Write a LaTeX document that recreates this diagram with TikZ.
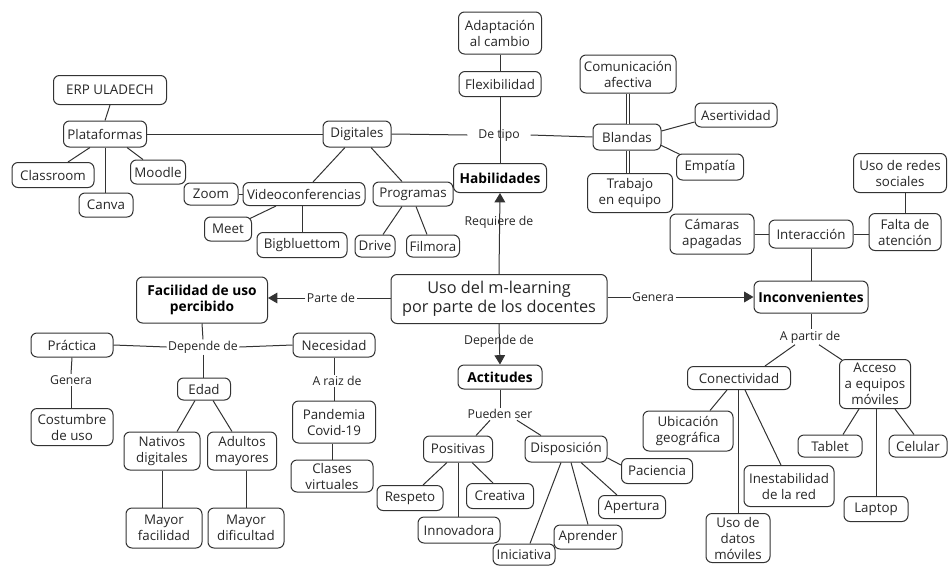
\documentclass[tikz,border=0pt]{standalone}
\usepackage{fontspec}
\setmainfont{Open Sans}
\usetikzlibrary{arrows.meta,calc}
\definecolor{lc}{HTML}{333333}
\definecolor{tc}{HTML}{262626}
\tikzset{
  box/.style={draw=lc, rounded corners=4.5pt, line width=0.75pt, inner sep=1pt, align=center,
    font=\fontsize{10}{12}\selectfont, text=tc},
  bsz/.style 2 args={minimum width=#1*0.75pt, minimum height=#2*0.75pt},
  boldbox/.style={box, font=\fontsize{10.3}{12.5}\selectfont\bfseries, text=black},
  lbl/.style={inner sep=1pt, font=\fontsize{9.2}{11}\selectfont, text=tc, fill=white},
  lblclear/.style={inner sep=1pt, font=\fontsize{9.2}{11}\selectfont, text=tc},
  conn/.style={draw=lc, line width=0.75pt},
  arr/.style={conn, -{Triangle[width=8pt,length=7pt]}},
  dbl/.style={draw=lc, line width=0.6pt, double=white, double distance=1.6pt}
}
\begin{document}
\begin{tikzpicture}[x=0.75pt,y=-0.75pt]
\useasboundingbox (0,0) rectangle (950,565);
% ---------- nodes ----------
\node[box,bsz={113}{29}] (erp) at (110,90) {ERP ULADECH};
\node[box,bsz={83}{26}] (plat) at (105,134) {Plataformas};
\node[box,bsz={82}{25}] (class) at (53,175) {Classroom};
\node[box,bsz={55}{24}] (moodle) at (158,172) {Moodle};
\node[box,bsz={54}{24}] (canva) at (106,205) {Canva};
\node[box,bsz={54}{22}] (zoom) at (211,194) {Zoom};
\node[box,bsz={122}{23}] (video) at (304,194) {Videoconferencias};
\node[box,bsz={47}{24}] (meet) at (228,229) {Meet};
\node[box,bsz={90}{25}] (bigb) at (302,245) {Bigbluettom};
\node[box,bsz={68}{26}] (digit) at (357,134) {Digitales};
\node[box,bsz={83}{42}] (adapt) at (500,33) {Adaptación\\al cambio};
\node[box,bsz={82}{25}] (flex) at (500,84) {Flexibilidad};
\node[boldbox,bsz={93}{29}] (hab) at (500,178) {Habilidades};
\node[box,bsz={80}{24}] (prog) at (413,194) {Programas};
\node[box,bsz={40}{22}] (drive) at (375,246) {Drive};
\node[box,bsz={53}{22}] (film) at (433,246) {Filmora};
\node[box,bsz={68}{26}] (blandas) at (627,137) {Blandas};
\node[box,bsz={96}{38}] (comu) at (628,74) {Comunicación\\afectiva};
\node[box,bsz={82}{24}] (aser) at (736,115) {Asertividad};
\node[box,bsz={67}{26}] (empa) at (710,167) {Empatía};
\node[box,bsz={85}{39}] (trab) at (630,193) {Trabajo\\en equipo};
\node[box,bsz={93}{39}] (redes) at (900,173) {Uso de redes\\sociales};
\node[box,bsz={72}{37}] (falta) at (905,232) {Falta de\\atención};
\node[box,bsz={84}{28}] (inter) at (811,234) {Interacción};
\node[box,bsz={84}{40}] (camaras) at (712,234) {Cámaras\\apagadas};
\node[boldbox,bsz={114}{32}] (incon) at (811,297) {Inconvenientes};
\node[box,bsz={216}{49},font=\fontsize{12.2}{14}\selectfont] (main) at (499,299) {Uso del m-learning\\por parte de los docentes};
\node[boldbox,bsz={131}{46}] (facil) at (202,300) {Facilidad de uso\\percibido};
\node[box,bsz={82}{24}] (prac) at (72,345) {Práctica};
\node[box,bsz={82}{24}] (neces) at (334,345) {Necesidad};
\node[box,bsz={82}{37}] (costum) at (72,427) {Costumbre\\de uso};
\node[box,bsz={53}{22}] (edad) at (204,389) {Edad};
\node[box,bsz={76}{38}] (nativos) at (162,451) {Nativos\\digitales};
\node[box,bsz={69}{38}] (adultos) at (242,451) {Adultos\\mayores};
\node[box,bsz={76}{40}] (mfac) at (164,528) {Mayor\\facilidad};
\node[box,bsz={76}{40}] (mdif) at (246,528) {Mayor\\dificultad};
\node[box,bsz={83}{42}] (pand) at (334,422) {Pandemia\\Covid-19};
\node[box,bsz={82}{32}] (clases) at (332,476) {Clases\\virtuales};
\node[boldbox,bsz={84}{24}] (actit) at (500,377) {Actitudes};
\node[box,bsz={69}{26}] (posit) at (458,449) {Positivas};
\node[box,bsz={82}{26}] (dispo) at (566,449) {Disposición};
\node[box,bsz={66}{25}] (respeto) at (410,498) {Respeto};
\node[box,bsz={67}{25}] (creat) at (500,496) {Creativa};
\node[box,bsz={82}{26}] (innov) at (459,530) {Innovadora};
\node[box,bsz={71}{25}] (pacien) at (657,471) {Paciencia};
\node[box,bsz={67}{23}] (apert) at (632,507) {Apertura};
\node[box,bsz={68}{24}] (aprend) at (588,537) {Aprender};
\node[box,bsz={62}{21}] (inici) at (524,554.5) {Iniciativa};
\node[box,bsz={103}{23}] (conect) at (739,378) {Conectividad};
\node[box,bsz={71}{49}] (acceso) at (875,384) {Acceso\\a equipos\\móviles};
\node[box,bsz={90}{40}] (ubic) at (688,431) {Ubicación\\geográfica};
\node[box,bsz={90}{41}] (inest) at (789,486) {Inestabilidad\\de la red};
\node[box,bsz={64}{49}] (usodat) at (738,538) {Uso de\\datos\\móviles};
\node[box,bsz={64}{22}] (tablet) at (830,446) {Tablet};
\node[box,bsz={58}{22}] (celular) at (918,446) {Celular};
\node[box,bsz={64}{25}] (laptop) at (876,509) {Laptop};
% ---------- labels ----------
\node[lblclear,inner xsep=8pt] (detipo) at (499,135) {De tipo};
\node[lblclear] (requiere) at (499,222) {Requiere de};
\node[lblclear] (dependeM) at (499,341) {Depende de};
% ---------- connectors ----------
\draw[conn] (erp.south) -- (plat.north);
\draw[conn] (plat.east) -- (digit.west);
\draw[conn] ($(plat.south)+(-15,0)$) -- ($(class.north)+(15,0)$);
\draw[conn] (plat.south) -- (plat.south |- canva.north);
\draw[conn] ($(plat.south)+(22,0)$) -- ($(moodle.north)+(-15,0)$);
\draw[conn] (zoom.east) -- (video.west);
\draw[conn] ($(video.south)+(-28,0)$) -- ($(meet.north)+(22,2)$);
\draw[conn] (bigb.north |- video.south) -- (bigb.north);
\draw[conn] ($(digit.south)+(-12,0)$) -- ($(video.north)+(9,0)$);
\draw[conn] ($(digit.south)+(14,0)$) -- ($(prog.north)+(-11,0)$);
\draw[conn] ($(prog.south)+(-11,0)$) -- ($(drive.north)+(8,0)$);
\draw[conn] ($(prog.south)+(3,0)$) -- ($(film.north)+(-6,0)$);
\draw[conn] (digit.east) -- (detipo.west);
\draw[conn] (detipo.east) -- (blandas.west);
\draw[conn] (adapt.south) -- (flex.north);
\draw[conn] (flex.south) -- (hab.north);
\draw[arr] (main.north) -- (hab.south);
\draw[dbl] (comu.south) -- (comu.south |- blandas.north);
\draw[dbl] (comu.south |- blandas.south) -- (comu.south |- trab.north);
\draw[conn] ($(blandas.east)+(0,-6)$) -- ($(aser.west)+(0,7)$);
\draw[conn] ($(blandas.east)+(-1,8)$) -- ($(empa.north)+(-30,1)$);
\draw[conn] (falta.north |- redes.south) -- (falta.north);
\draw[conn] (inter.east) -- (inter.east -| falta.west);
\draw[conn] (camaras.east) -- (inter.west);
\draw[conn] (inter.south) -- (incon.north);
% Genera (right)
\node[lbl] (genera) at (653,297) {Genera};
\draw[conn] (main.east |- genera.west) -- (genera.west);
\draw[arr] (genera.east) -- (genera.east -| incon.west);
% Parte de
\node[lbl] (parte) at (331,298) {Parte de};
\draw[conn] (main.west |- parte.east) -- (parte.east);
\draw[arr] (parte.west) -- (parte.west -| facil.east);
% Depende de (left)
\node[lbl] (dependeL) at (203,347) {Depende de};
\draw[conn] (facil.south) -- (dependeL.north);
\draw[conn] (dependeL.south) -- (dependeL.south |- edad.north);
\draw[conn] (prac.east) -- (dependeL.west);
\draw[conn] (dependeL.east) -- (neces.west);
\node[lbl] (generaL) at (71,380) {Genera};
\draw[conn] (prac.south) -- (generaL.north);
\draw[conn] (generaL.south) -- (generaL.south |- costum.north);
\draw[conn] ($(edad.south)+(-9,0)$) -- ($(nativos.north)+(15,0)$);
\draw[conn] ($(edad.south)+(9,0)$) -- ($(adultos.north)+(-10,0)$);
\draw[conn] (nativos.south) -- (nativos.south |- mfac.north);
\draw[conn] (mdif.north |- adultos.south) -- (mdif.north);
\node[lbl] (araiz) at (337,381) {A raiz de};
\draw[conn] (pand.north |- neces.south) -- (pand.north |- araiz.north);
\draw[conn] (pand.north |- araiz.south) -- (pand.north);
\draw[conn] (clases.north |- pand.south) -- (clases.north);
% Actitudes
\draw[arr] (main.south) -- (actit.north);
\node[lbl] (pueden) at (500,414) {Pueden ser};
\draw[conn] (actit.south) -- (pueden.north);
\draw[conn] ($(pueden.south)+(-10,0)$) -- ($(posit.north)+(18,0)$);
\draw[conn] ($(pueden.south)+(17,0)$) -- ($(dispo.north)+(-25,0)$);
\draw[conn] ($(posit.south)+(-11,0)$) -- ($(respeto.north)+(13,0)$);
\draw[conn] (posit.south) -- (posit.south |- innov.north);
\draw[conn] ($(posit.south)+(14,0)$) -- ($(creat.north)+(-7,0)$);
\draw[conn] ($(dispo.east)+(0,9)$) -- ($(pacien.west)+(0,-6)$);
\draw[conn] ($(dispo.south)+(15,0)$) -- ($(apert.north)+(-15,0)$);
\draw[conn] ($(dispo.south)+(5,0)$) -- (aprend.north);
\draw[conn] ($(dispo.south)+(-5,0)$) -- ($(inici.north)+(6,0)$);
% Inconvenientes
\node[lbl] (apartir) at (810,337) {A partir de};
\draw[conn] (incon.south) -- (incon.south |- apartir.north);
\draw[conn] ($(apartir.south)+(-15,0)$) -- ($(conect.north)+(26,0)$);
\draw[conn] ($(apartir.south)+(9,0)$) -- ($(acceso.north)+(-33,1)$);
\draw[conn] ($(conect.south)+(-12,0)$) -- ($(ubic.north)+(22,0)$);
\draw[conn] (usodat.north |- conect.south) -- (usodat.north);
\draw[conn] ($(conect.south)+(6,0)$) -- ($(inest.north)+(-8,0)$);
\draw[conn] ($(acceso.south)+(-16,0)$) -- ($(tablet.north)+(13,0)$);
\draw[conn] (laptop.north |- acceso.south) -- (laptop.north);
\draw[conn] ($(acceso.south)+(20,0)$) -- ($(celular.north)+(-4,0)$);
\end{tikzpicture}
\end{document}
